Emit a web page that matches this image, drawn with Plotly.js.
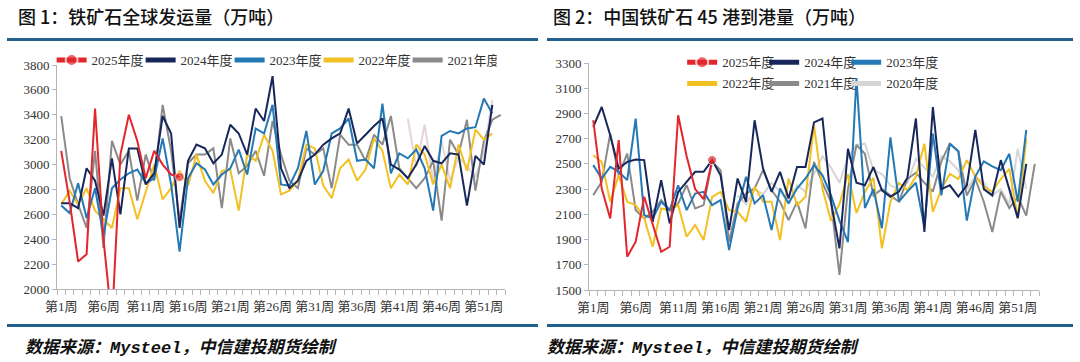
<!DOCTYPE html>
<html>
<head>
<meta charset="utf-8">
<script src="https://cdn.plot.ly/plotly-3.0.1.min.js"></script>
<style>
  html, body { margin:0; padding:0; background:#fff; }
  body { width:1080px; height:362px; position:relative; overflow:hidden; }
  .title { position:absolute; font-family:"Noto Sans CJK SC", sans-serif; font-size:18px; line-height:20px; font-weight:500; color:#111; white-space:nowrap; }
  .rule { position:absolute; height:3px; background:#215f8c; }
  .foot { position:absolute; font-family:"Noto Sans CJK SC", sans-serif; font-size:17px; line-height:20px; font-style:italic; font-weight:bold; color:#111; white-space:nowrap; }
  .foot .m { font-family:"Liberation Mono", monospace; font-weight:bold; font-style:italic; }
  .chart { position:absolute; top:20px; width:540px; height:305px; }
</style>
</head>
<body>
<div class="title" style="left:18px; top:6px;">图 1：铁矿石全球发运量（万吨）</div>
<div class="title" style="left:553px; top:6px;">图 2：中国铁矿石 45 港到港量（万吨）</div>
<div class="rule" style="left:7px; top:38px; width:531px;"></div>
<div class="rule" style="left:547px; top:38px; width:526px;"></div>
<div class="rule" style="left:7px; top:324px; width:531px;"></div>
<div class="rule" style="left:547px; top:324px; width:526px;"></div>
<div id="c1" class="chart" style="left:0px;"></div>
<div id="c2" class="chart" style="left:540px;"></div>
<div class="foot" style="left:25px; top:336px;">数据来源：<span class="m">Mysteel</span>，中信建投期货绘制</div>
<div class="foot" style="left:547px; top:336px;">数据来源：<span class="m">Mysteel</span>，中信建投期货绘制</div>

<script>
// ---------- categories / ticks ----------
const weeks = [1,2,3,4,5,6,7,8,9,10,11,12,13,14,15,16,17,18,19,20,21,22,23,24,25,26,27,28,29,30,31,32,33,34,35,36,37,38,39,40,41,42,43,44,45,46,47,48,49,50,51,52,53];
const tickWeeks = [1,6,11,16,21,26,31,36,41,46,51];
const tickLabels = ['第1周','第6周','第11周','第16周','第21周','第26周','第31周','第36周','第41周','第46周','第51周'];

// ---------- Chart 1: 铁矿石全球发运量 ----------
const ship2025 = [3110,2700,2220,2280,3450,2400,1730,3080,3400,3190,2890,3110,3000,2920,2900];
const ship2024 = [2690,2690,2650,2970,2870,2590,3050,2600,3130,3130,
                  2840,2930,3390,3250,2490,3030,3160,3130,3010,3080,
                  3320,3250,3080,3450,3350,3710,2970,2810,2870,3030,
                  3080,3160,3210,3250,3450,3170,3240,3310,3370,3000,
                  2960,2890,3000,3150,3030,3010,3090,3080,2670,3070,
                  3000,3480];
const ship2023 = [2670,2610,2850,2570,2810,2430,2810,2880,2930,2960,
                  2850,2890,3210,2840,2300,2890,3010,2960,2840,2920,
                  2970,3120,2920,3290,3250,3480,2840,2830,2970,3270,
                  2840,2950,3250,3290,3370,3030,3040,2970,3490,2930,
                  3090,3050,3120,2970,2630,3230,3270,3250,3290,3300,
                  3530,3410];
const ship2022 = [2680,2790,2680,2810,2630,2560,2490,2810,2810,2560,
                  2780,3000,2720,2810,2950,2830,3080,2870,2770,2950,
                  2960,2630,3080,3030,3240,3110,2760,2790,2870,3160,
                  3130,2830,2730,2970,3040,2870,2960,3210,3110,2810,
                  2920,2840,3160,3080,2840,3000,2810,3160,2950,3280,
                  3200,3250];
const ship2021 = [3390,2890,2680,2490,3110,2330,3190,3000,3110,2710,
                  3080,2870,3480,3110,2550,3010,3080,3080,3130,2650,
                  3210,2930,2990,3110,2910,3350,3080,2870,2810,3130,
                  3080,3130,2810,3240,3160,3160,3030,3240,3160,3390,
                  2970,2890,2810,2890,3030,2550,3200,3080,3360,2790,
                  3190,3360,3400];
const ship2020Start = 42;
const ship2020 = [3370,2980,3320,2870,3190,2870,3060,2990,2900,3100,3520];
const ship1Ticks = [2000,2200,2400,2600,2800,3000,3200,3400,3600,3800];

// ---------- Chart 2: 中国45港到港量 ----------
const port2025 = [2846,2305,2067,2688,1764,1883,2239,2015,1803,1843,2886,2560,2300,2220,2530];
const port2024 = [2793,2951,2727,2463,2516,2535,2530,2041,2371,2028,
                  2278,2358,2437,2437,2530,2410,1975,2384,2199,2846,
                  2463,2278,2437,2226,2476,2476,2829,2860,2200,1830,
                  2620,2350,2330,2475,2290,2240,2280,2390,2860,1960,
                  2950,2300,2330,2240,2330,2770,2300,2250,2530,2300,
                  2070,2500];
const port2023 = [2490,2384,2476,2437,2371,2859,2094,2067,2199,2133,
                  2331,2133,2265,2278,2173,2213,1817,2146,2397,2186,
                  2252,1975,2305,2186,2305,2384,2490,2410,2250,2050,
                  1880,3180,2150,2300,1990,2710,2200,2280,2350,2000,
                  2740,2250,2660,2600,2050,2400,2520,2480,2450,2580,
                  2200,2770];
const port2022 = [2569,2516,2199,2410,2199,2173,2067,1843,2146,2133,
                  2173,1922,2015,1896,2239,2278,2133,2120,2041,2318,
                  2199,2199,1896,2384,2173,2239,2806,2300,2050,2180,
                  2420,2110,2280,2390,1830,2200,2350,2290,2400,2660,
                  2120,2300,2420,2380,2530,2400,2320,2280,2380,2460,
                  2070,2700];
const port2021 = [2252,2358,2740,2410,2582,2133,2067,2120,2213,2133,
                  2186,2331,2146,2173,2516,2450,1883,2186,2265,2305,
                  2450,2292,2199,2054,2199,1988,2516,2350,2200,1620,
                  2300,2650,2580,2250,2300,2250,2200,2380,2430,2350,
                  2280,2520,2660,2600,2250,2380,2200,1960,2280,2150,
                  2240,2090,2500];
const port2020Start = 18;
const port2020 = [2250,2180,2300,2260,2350,2280,2200,2330,2280,2420,
                  2560,2470,2350,2550,2650,2660,2450,2420,2330,2300,
                  2350,2540,2470,2400,2560,2520,2450,2300,2400,2350,
                  2250,2300,2180,2620,2300];
const port2Ticks = [1500,1700,1900,2100,2300,2500,2700,2900,3100,3300];

// ---------- styles ----------
const C = { y2025:'#e3262b', y2024:'#18275b', y2023:'#2378b5', y2022:'#f3c022', y2021:'#8a8a8a' };
const fontSerif = '"Liberation Serif", "Times New Roman", "Noto Sans CJK SC", serif';

function lastMarkerSizes(arr) { return arr.map((v, i) => i === arr.length - 1 ? 9 : 0); }
function xs(vals, start) { const s = weeks.indexOf(start); return weeks.slice(s, s + vals.length); }
function line(name, vals, color, extra) {
  return Object.assign({
    type:'scatter', mode:'lines', name:name,
    x: xs(vals, 1), y: vals,
    line:{ color:color, width:2 }, hoverinfo:'skip'
  }, extra || {});
}
// empty legend slot so the last real entry's text is not clipped
function spacer(legendId) {
  return { type:'scatter', mode:'lines', name:' ', x:[null], y:[null],
           line:{ color:'rgba(0,0,0,0)', width:0 }, hoverinfo:'skip', legend:legendId };
}

function axes(yr, yt) {
  return {
    xaxis: {
      range:[0.5, 53.5], tickmode:'array', tickvals:tickWeeks, ticktext:tickLabels,
      ticks:'outside', ticklen:5, tickcolor:'rgba(0,0,0,0)',
      minor:{ tickmode:'linear', tick0:0.5, dtick:1, ticks:'outside', ticklen:5, tickcolor:'#b5b5b5', tickwidth:1, showgrid:false },
      showline:true, linecolor:'#b5b5b5', linewidth:1, showgrid:false, zeroline:false,
      tickfont:{ family:fontSerif, size:13, color:'#333' }, fixedrange:true
    },
    yaxis: {
      range:yr, tickmode:'array', tickvals:yt, ticks:'outside', ticklen:4, tickcolor:'#b5b5b5',
      showline:true, linecolor:'#b5b5b5', linewidth:1, showgrid:false, zeroline:false,
      tickfont:{ family:fontSerif, size:13, color:'#333' }, fixedrange:true
    }
  };
}

// ---------- Chart 1 ----------
const t1 = [
  spacer('legend'),
  line('2020年度', ship2020, '#e5d6d6', { x: xs(ship2020, ship2020Start), showlegend:false }),
  line('2021年度', ship2021, C.y2021),
  line('2022年度', ship2022, C.y2022),
  line('2023年度', ship2023, C.y2023),
  line('2024年度', ship2024, C.y2024),
  line('2025年度', ship2025, C.y2025, { mode:'lines+markers', marker:{ color:C.y2025, size:lastMarkerSizes(ship2025) } })
];
const L1 = Object.assign({
  width:540, height:305,
  margin:{ l:57, r:35, t:45, b:36 },
  paper_bgcolor:'rgba(0,0,0,0)', plot_bgcolor:'rgba(0,0,0,0)',
  showlegend:true,
  legend:{ orientation:'h', x:-0.012, xanchor:'left', y:1.089, yanchor:'top',
           traceorder:'reversed', itemsizing:'constant', entrywidth:44, entrywidthmode:'pixels',
           bgcolor:'rgba(0,0,0,0)', font:{ family:fontSerif, size:13, color:'#333' } }
}, axes([2000, 3800], ship1Ticks));
Plotly.newPlot('c1', t1, L1, { staticPlot:true, displayModeBar:false });

// ---------- Chart 2 ----------
const t2 = [
  spacer('legend2'),
  line('2020年度', port2020, '#d6d6d6', { x: xs(port2020, port2020Start), legend:'legend2' }),
  line('2021年度', port2021, C.y2021, { legend:'legend2' }),
  line('2022年度', port2022, C.y2022, { legend:'legend2' }),
  spacer('legend'),
  line('2023年度', port2023, C.y2023),
  line('2024年度', port2024, C.y2024),
  line('2025年度', port2025, C.y2025, { mode:'lines+markers', marker:{ color:C.y2025, size:lastMarkerSizes(port2025) } })
];
const legCommon = { orientation:'h', xanchor:'left', yanchor:'top', traceorder:'reversed',
  itemsizing:'constant', entrywidth:37, entrywidthmode:'pixels', bgcolor:'rgba(0,0,0,0)',
  font:{ family:fontSerif, size:13, color:'#333' } };
const L2 = Object.assign({
  width:540, height:305,
  margin:{ l:49, r:41, t:43, b:35 },
  paper_bgcolor:'rgba(0,0,0,0)', plot_bgcolor:'rgba(0,0,0,0)',
  showlegend:true,
  legend: Object.assign({ x:0.207, y:1.069 }, legCommon),
  legend2: Object.assign({ x:0.207, y:0.976 }, legCommon)
}, axes([1500, 3300], port2Ticks));
Plotly.newPlot('c2', t2, L2, { staticPlot:true, displayModeBar:false });
</script>
</body>
</html>
